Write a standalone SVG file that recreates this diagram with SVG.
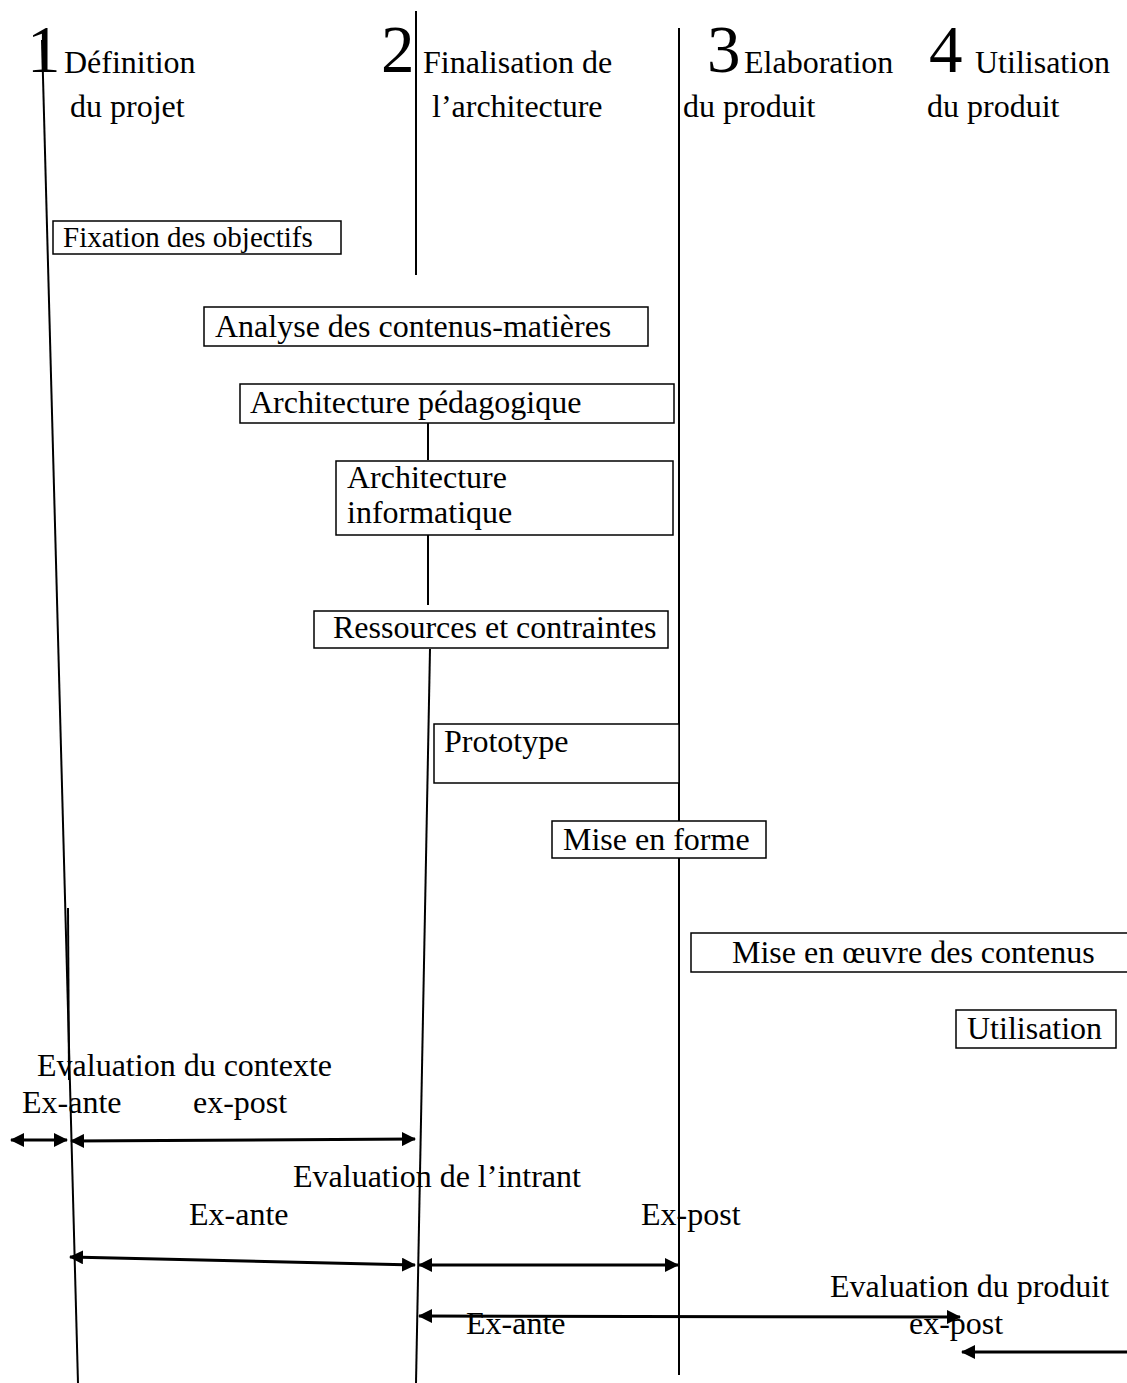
<svg xmlns="http://www.w3.org/2000/svg" width="1127" height="1383" viewBox="0 0 1127 1383">
<style>
  text { font-family: "Liberation Serif", "Times New Roman", serif; fill: #000; font-size: 32px; }
  .big { font-size: 67px; }
  .box { fill: #fff; stroke: #000; stroke-width: 1.5; }
  .vline { stroke: #000; stroke-width: 2; fill: none; }
  .arr { stroke: #000; stroke-width: 3; fill: none; }
</style>
<defs>
  <marker id="ah" viewBox="0 0 14 14" refX="13" refY="7" markerWidth="14" markerHeight="14" markerUnits="userSpaceOnUse" orient="auto-start-reverse">
    <path d="M0,0 L14,7 L0,14 z" fill="#000"/>
  </marker>
</defs>
<rect width="1127" height="1383" fill="#fff"/>

<g id="phase-lines">
  <line class="vline" x1="42" y1="40" x2="78" y2="1383"/>
  <line class="vline" x1="68" y1="908" x2="69" y2="1080"/>
  <line class="vline" x1="416" y1="11" x2="416" y2="275"/>
  <line class="vline" x1="428" y1="423" x2="428" y2="460"/>
  <line class="vline" x1="428" y1="535" x2="428" y2="605"/>
  <line class="vline" x1="430" y1="649" x2="416" y2="1383"/>
  <line class="vline" x1="679" y1="28" x2="679" y2="1375"/>
</g>

<g id="headers">
  <g id="phase1"><text class="big" x="27" y="72">1</text><text x="64" y="73">Définition</text><text x="70" y="117">du projet</text></g>
  <g id="phase2"><text class="big" x="381" y="72">2</text><text x="423" y="73">Finalisation de</text><text x="432" y="117">l’architecture</text></g>
  <g id="phase3"><text class="big" x="707" y="72">3</text><text x="744" y="73">Elaboration</text><text x="683" y="117">du produit</text></g>
  <g id="phase4"><text class="big" x="929" y="72">4</text><text x="975" y="73">Utilisation</text><text x="927" y="117">du produit</text></g>
</g>

<g id="n-fixation"><rect class="box" x="53" y="221" width="288" height="33"/><text x="63" y="247" style="font-size:29px">Fixation des objectifs</text></g>
<g id="n-analyse"><rect class="box" x="204" y="307" width="444" height="39"/><text x="215" y="337">Analyse des contenus-matières</text></g>
<g id="n-archi-peda"><rect class="box" x="240" y="384" width="434" height="39"/><text x="250" y="413">Architecture pédagogique</text></g>
<g id="n-archi-info"><rect class="box" x="336" y="461" width="337" height="74"/><text x="347" y="488">Architecture</text><text x="347" y="523">informatique</text></g>
<g id="n-ressources"><rect class="box" x="314" y="611" width="354" height="37"/><text x="333" y="638">Ressources et contraintes</text></g>
<g id="n-prototype"><rect class="box" x="434" y="724" width="245" height="59"/><text x="444" y="752">Prototype</text></g>
<g id="n-mise-forme"><rect class="box" x="552" y="821" width="214" height="37"/><text x="563" y="850">Mise en forme</text></g>
<g id="n-mise-oeuvre"><rect class="box" x="691" y="933" width="445" height="39"/><text x="732" y="963">Mise en œuvre des contenus</text></g>
<g id="n-utilisation"><rect class="box" x="956" y="1010" width="160" height="38"/><text x="967" y="1039">Utilisation</text></g>

<g id="labels">
  <text x="37" y="1076">Evaluation du contexte</text>
  <text x="22" y="1113">Ex-ante</text>
  <text x="193" y="1113">ex-post</text>
  <text x="293" y="1187">Evaluation de l’intrant</text>
  <text x="189" y="1225">Ex-ante</text>
  <text x="641" y="1225">Ex-post</text>
  <text x="830" y="1297">Evaluation du produit</text>
  <text x="466" y="1334">Ex-ante</text>
  <text x="909" y="1334">ex-post</text>
</g>

<g id="connectors">
  <line class="arr" x1="11" y1="1140" x2="67" y2="1140" marker-start="url(#ah)" marker-end="url(#ah)"/>
  <line class="arr" x1="71" y1="1141" x2="415" y2="1139" marker-start="url(#ah)" marker-end="url(#ah)"/>
  <line class="arr" x1="70" y1="1257" x2="415" y2="1265" marker-start="url(#ah)" marker-end="url(#ah)"/>
  <line class="arr" x1="419" y1="1265" x2="678" y2="1265" marker-start="url(#ah)" marker-end="url(#ah)"/>
  <line class="arr" x1="419" y1="1316" x2="960" y2="1317" marker-start="url(#ah)" marker-end="url(#ah)"/>
  <line class="arr" x1="1127" y1="1352" x2="962" y2="1352" marker-end="url(#ah)"/>
</g>
</svg>
